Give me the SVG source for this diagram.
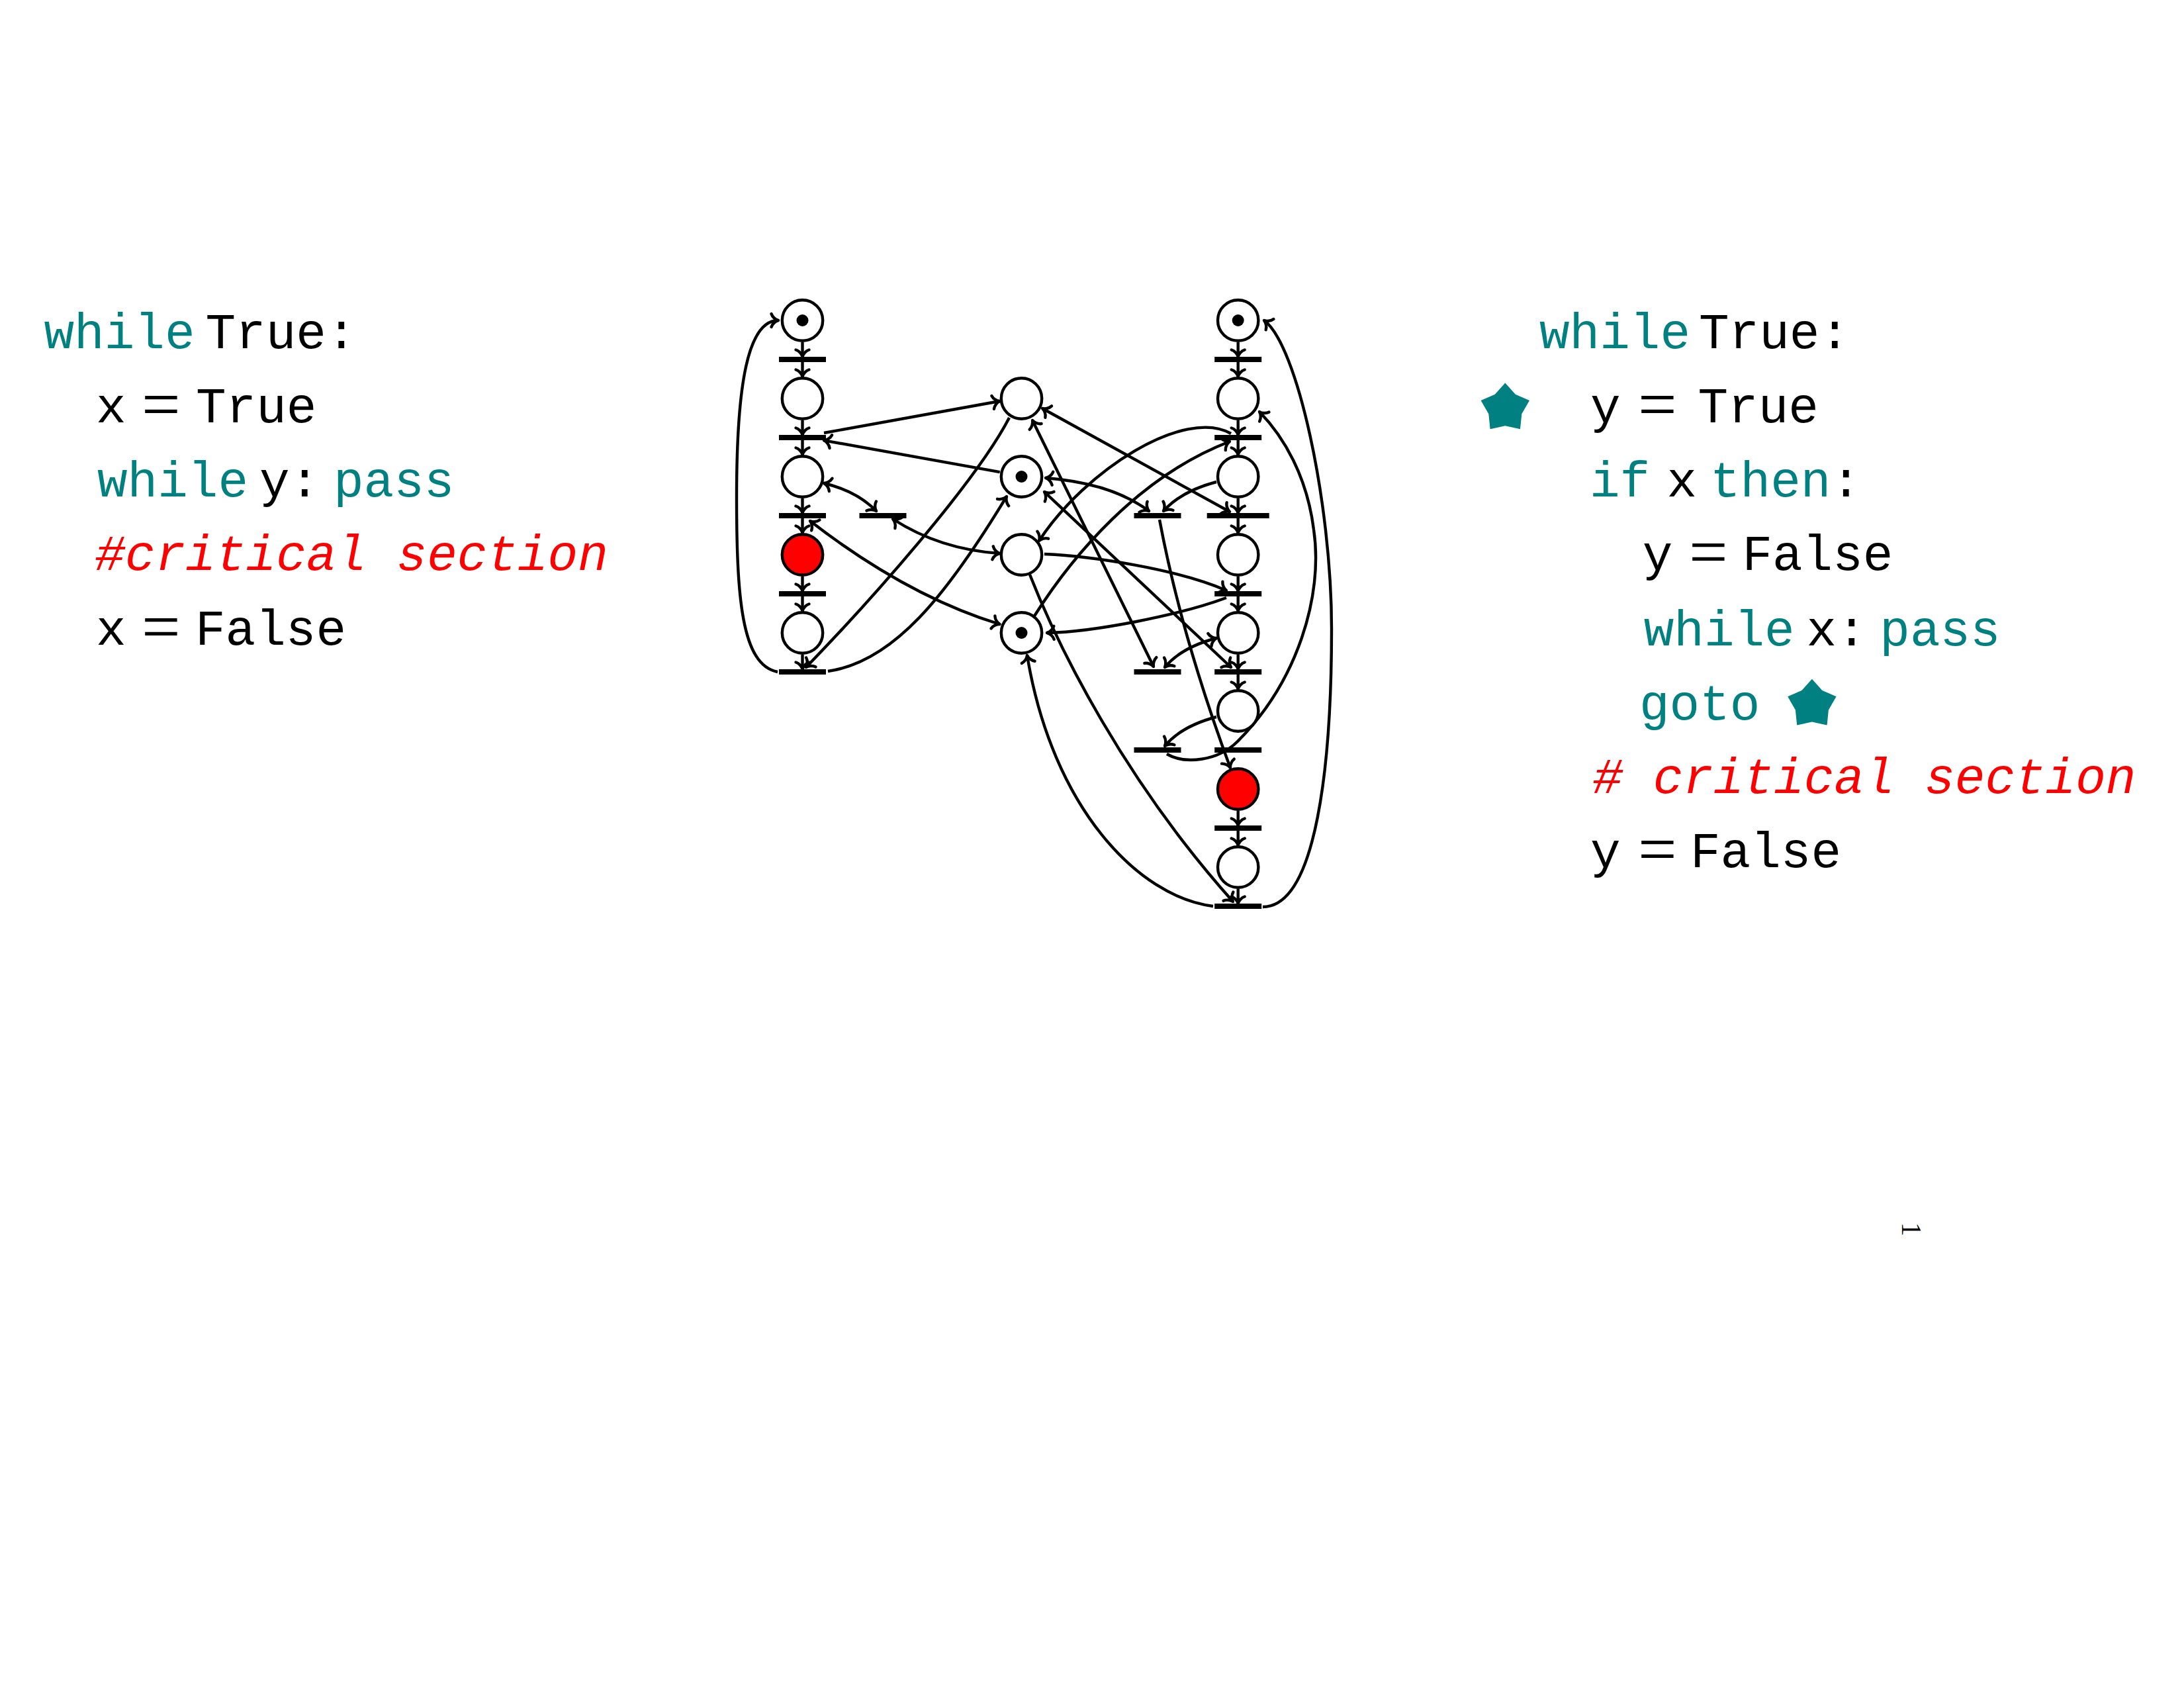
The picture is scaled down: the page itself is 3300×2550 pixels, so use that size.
<svg xmlns="http://www.w3.org/2000/svg" xmlns:xlink="http://www.w3.org/1999/xlink" width="3300" height="2550" viewBox="0 0 3300 2550">
<style>
.pl{fill:#fff;stroke:#000;stroke-width:4.4}
.red{fill:#ff0000;stroke:#000;stroke-width:4.4}
.tr{fill:#000}
.tok{fill:#000}
.e{fill:none;stroke:#000;stroke-width:4.4;stroke-linecap:butt}
.a{marker-end:url(#ah)}
.b{marker-start:url(#ah);marker-end:url(#ah)}
.tt{font-family:"Liberation Mono","DejaVu Sans Mono",monospace;font-size:76px}
.kw{fill:#008080}
.id{fill:#000}
.cm{fill:#ff0000;font-style:italic}
.eq{font-family:"Liberation Serif","DejaVu Serif",serif;font-size:104px;fill:#000}
.pg{font-family:"Liberation Serif","DejaVu Serif",serif;font-size:42px;fill:#000}
.star{fill:#008080}
</style>
<defs>
<marker id="ah" viewBox="-14 -14 16 28" refX="0" refY="0" markerWidth="16" markerHeight="28" markerUnits="userSpaceOnUse" orient="auto-start-reverse" overflow="visible">
<path d="M-10.5,-10 C-9,-5 -4,-1 0,0 C-4,1 -9,5 -10.5,10" fill="none" stroke="#000" stroke-width="4.4" stroke-linecap="round" stroke-linejoin="round"/>
</marker>
<path id="starshape" d="M0,-38.6 L15.46,-21.28 L36.71,-11.93 L25.01,8.13 L22.69,31.23 L0,26.3 L-22.69,31.23 L-25.01,8.13 L-36.71,-11.93 L-15.46,-21.28 Z"/>
</defs>
<rect width="3300" height="2550" fill="#fff"/>

<g id="left-code">
<text class="tt kw" x="66.5" y="525.5">while</text>
<text class="tt id" x="310.5" y="525.5">True:</text>
<text class="tt id" x="145" y="637.5">x</text>
<text class="eq" x="214" y="645.5">=</text>
<text class="tt id" x="296" y="637.5">True</text>
<text class="tt kw" x="147" y="749.5">while</text>
<text class="tt id" x="392" y="749.5">y:</text>
<text class="tt kw" x="504" y="749.5">pass</text>
<text class="tt cm" x="143.5" y="861">#critical section</text>
<text class="tt id" x="145" y="974">x</text>
<text class="eq" x="214" y="982">=</text>
<text class="tt id" x="295" y="974">False</text>
</g>

<g id="right-code">
<text class="tt kw" x="2326" y="525.5">while</text>
<text class="tt id" x="2567" y="525.5">True:</text>
<use xlink:href="#starshape" class="star" x="2274.3" y="617"/>
<text class="tt id" x="2403" y="637.5">y</text>
<text class="eq" x="2475" y="645.5">=</text>
<text class="tt id" x="2565.5" y="637.5">True</text>
<text class="tt kw" x="2402" y="749.5">if</text>
<text class="tt id" x="2518.5" y="749.5">x</text>
<text class="tt kw" x="2584" y="749.5">then</text>
<text class="tt id" x="2766.4" y="749.5">:</text>
<text class="tt id" x="2481.7" y="861">y</text>
<text class="eq" x="2552" y="869">=</text>
<text class="tt id" x="2632.4" y="861">False</text>
<text class="tt kw" x="2483.7" y="975">while</text>
<text class="tt id" x="2729.5" y="975">x:</text>
<text class="tt kw" x="2840.3" y="975">pass</text>
<text class="tt kw" x="2477" y="1086.5">goto</text>
<use xlink:href="#starshape" class="star" x="2737.9" y="1064.3"/>
<text class="tt cm" x="2406.5" y="1198"># critical section</text>
<text class="tt id" x="2403" y="1310">y</text>
<text class="eq" x="2475" y="1318">=</text>
<text class="tt id" x="2554" y="1310">False</text>
</g>

<text class="pg" transform="translate(2874,1857) rotate(90)" text-anchor="middle">1</text>

<g id="connectors">
<path class="e a" d="M1212.5,517 V539"/>
<path class="e a" d="M1212.5,547 V569"/>
<path class="e a" d="M1212.5,635 V657"/>
<path class="e a" d="M1212.5,665 V687"/>
<path class="e a" d="M1212.5,753 V775"/>
<path class="e a" d="M1212.5,783 V805"/>
<path class="e a" d="M1212.5,871 V893"/>
<path class="e a" d="M1212.5,901 V923"/>
<path class="e a" d="M1212.5,989 V1011"/>
<path class="e a" d="M1870.7,517 V539"/>
<path class="e a" d="M1870.7,547 V569"/>
<path class="e a" d="M1870.7,635 V657"/>
<path class="e a" d="M1870.7,665 V687"/>
<path class="e a" d="M1870.7,753 V775"/>
<path class="e a" d="M1870.7,783 V805"/>
<path class="e a" d="M1870.7,871 V893"/>
<path class="e a" d="M1870.7,901 V923"/>
<path class="e a" d="M1870.7,989 V1011"/>
<path class="e a" d="M1870.7,1019 V1041"/>
<path class="e a" d="M1870.7,1225 V1247"/>
<path class="e a" d="M1870.7,1255 V1277"/>
<path class="e a" d="M1870.7,1343 V1365"/>
<path class="e a" d="M1245,654 L1510.5,606"/>
<path class="e a" d="M1510.7,713.2 L1245,665.3"/>
<path class="e b" d="M1245,730 Q1295,742 1324,772"/>
<path class="e b" d="M1349,784 Q1420,830 1510.5,836"/>
<path class="e b" d="M1224,787 Q1370,900 1510.5,943"/>
<path class="e a" d="M1525,631 C1475,728 1315,908 1218,1008"/>
<path class="e a" d="M1251,1014 C1350,1000 1430,900 1521,750"/>
<path class="e a" d="M1175,1015 C1120,1005 1113,900 1113,750 C1113,580 1130,484 1176,484"/>
<path class="e a" d="M1860,655 C1790,615 1640,710 1570,817"/>
<path class="e a" d="M1562,932 C1620,840 1720,720 1858,667"/>
<path class="e b" d="M1580,722 Q1680,730 1736,772"/>
<path class="e a" d="M1838,728 Q1785,742 1758,772"/>
<path class="e b" d="M1575,617 L1858,773"/>
<path class="e a" d="M1752,785 Q1785,960 1859,1160"/>
<path class="e a" d="M1578,837 C1650,840 1780,860 1853,892"/>
<path class="e a" d="M1853,903 C1780,930 1650,955 1582,956"/>
<path class="e b" d="M1560,635 L1743,1007"/>
<path class="e b" d="M1578,743 L1860,1008"/>
<path class="e b" d="M1838,964 Q1785,978 1760,1008"/>
<path class="e a" d="M1838,1083 Q1785,1097 1760,1127"/>
<path class="e a" d="M1763,1139 C1790,1155 1840,1150 1870,1120 C1960,1030 2000,900 1985,800 C1975,720 1940,660 1903,622"/>
<path class="e a" d="M1556,868 C1600,980 1700,1180 1863,1362"/>
<path class="e a" d="M1833,1369 C1720,1355 1590,1220 1552,990"/>
<path class="e a" d="M1908,1370 C1990,1370 2012,1150 2012,950 C2012,760 1960,520 1910,484"/>
</g>

<g id="L_p0"><circle class="pl" cx="1212.5" cy="484" r="30.7"/><circle class="tok" cx="1212.5" cy="484" r="9"/></g>
<g id="L_t0"><rect class="tr" x="1177" y="539" width="71" height="8"/></g>
<g id="L_p1"><circle class="pl" cx="1212.5" cy="602" r="30.7"/></g>
<g id="L_t1"><rect class="tr" x="1177" y="657" width="71" height="8"/></g>
<g id="L_p2"><circle class="pl" cx="1212.5" cy="720" r="30.7"/></g>
<g id="L_t2"><rect class="tr" x="1177" y="775" width="71" height="8"/></g>
<g id="L_p3"><circle class="red" cx="1212.5" cy="838" r="30.7"/></g>
<g id="L_t3"><rect class="tr" x="1177" y="893" width="71" height="8"/></g>
<g id="L_p4"><circle class="pl" cx="1212.5" cy="956" r="30.7"/></g>
<g id="L_t4"><rect class="tr" x="1177" y="1011" width="71" height="8"/></g>
<g id="L_s"><rect class="tr" x="1298.5" y="775" width="71" height="8"/></g>

<g id="x_true"><circle class="pl" cx="1543.5" cy="602" r="30.7"/></g>
<g id="x_false"><circle class="pl" cx="1543.5" cy="720" r="30.7"/><circle class="tok" cx="1543.5" cy="720" r="9"/></g>
<g id="y_true"><circle class="pl" cx="1543.5" cy="838" r="30.7"/></g>
<g id="y_false"><circle class="pl" cx="1543.5" cy="956" r="30.7"/><circle class="tok" cx="1543.5" cy="956" r="9"/></g>

<g id="R_q0"><circle class="pl" cx="1870.7" cy="484" r="30.7"/><circle class="tok" cx="1870.7" cy="484" r="9"/></g>
<g id="R_u0"><rect class="tr" x="1835.2" y="539" width="71" height="8"/></g>
<g id="R_q1"><circle class="pl" cx="1870.7" cy="602" r="30.7"/></g>
<g id="R_u1"><rect class="tr" x="1835.2" y="657" width="71" height="8"/></g>
<g id="R_q2"><circle class="pl" cx="1870.7" cy="720" r="30.7"/></g>
<g id="R_u2"><rect class="tr" x="1823.7" y="775" width="94" height="8"/></g>
<g id="R_q3"><circle class="pl" cx="1870.7" cy="838" r="30.7"/></g>
<g id="R_u3"><rect class="tr" x="1835.2" y="893" width="71" height="8"/></g>
<g id="R_q4"><circle class="pl" cx="1870.7" cy="956" r="30.7"/></g>
<g id="R_u4"><rect class="tr" x="1835.2" y="1011" width="71" height="8"/></g>
<g id="R_q5"><circle class="pl" cx="1870.7" cy="1074" r="30.7"/></g>
<g id="R_u5"><rect class="tr" x="1835.2" y="1129" width="71" height="8"/></g>
<g id="R_q6"><circle class="red" cx="1870.7" cy="1192" r="30.7"/></g>
<g id="R_u6"><rect class="tr" x="1835.2" y="1247" width="71" height="8"/></g>
<g id="R_q7"><circle class="pl" cx="1870.7" cy="1310" r="30.7"/></g>
<g id="R_u7"><rect class="tr" x="1835.2" y="1365" width="71" height="8"/></g>
<g id="R_s1"><rect class="tr" x="1713.5" y="775" width="71" height="8"/></g>
<g id="R_s2"><rect class="tr" x="1713.5" y="1011" width="71" height="8"/></g>
<g id="R_s3"><rect class="tr" x="1713.5" y="1129" width="71" height="8"/></g>
</svg>
